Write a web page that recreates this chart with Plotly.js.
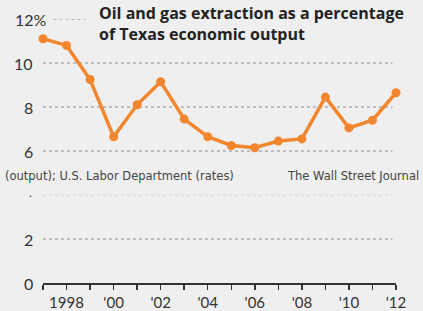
<!DOCTYPE html>
<html>
<head>
<meta charset="utf-8">
<script src="https://cdn.plot.ly/plotly-3.0.1.min.js"></script>
<style>
html,body{margin:0;padding:0;background:#efefef;}
#chart{width:423px;height:311px;}
</style>
</head>
<body>
<div id="chart"></div>
<script>
// Data
const years = [1997,1998,1999,2000,2001,2002,2003,2004,2005,2006,2007,2008,2009,2010,2011,2012];
const sharePct = [11.1,10.8,9.25,6.65,8.1,9.15,7.45,6.65,6.25,6.15,6.45,6.55,8.45,7.05,7.4,8.65];
const xTickVals = [1997,1998,1999,2000,2001,2002,2003,2004,2005,2006,2007,2008,2009,2010,2011,2012];
const xTickText = ['','1998','',"'00",'',"'02",'',"'04",'',"'06",'',"'08",'',"'10",'',"'12"];
const yTickVals = [0,2,6,8,10,12];
const yTickText = ['0','2','6','8','10','12%'];
const titleLines = ['Oil and gas extraction as a percentage','of Texas economic output'];
const sourceLeft = '(output); U.S. Labor Department (rates)';
const sourceRight = 'The Wall Street Journal';

const bg = '#efefef';
const orange = '#f2862e';
const gridColor = '#8a8a8a';
const font = 'Lato, "Open Sans", sans-serif';
const srcFont = '"DejaVu Sans", sans-serif';

const annotations = [];
yTickVals.forEach((v,i)=>{
  annotations.push({xref:'paper',yref:'y',x:-0.005,y:v,text:yTickText[i],showarrow:false,
    xanchor:i===yTickVals.length-1?'center':'right',xshift:i===yTickVals.length-1?-10:-6,yanchor:'middle',
    font:{family:font,size:16,color:'#333'}});
});
annotations.push({xref:'paper',yref:'y',x:-0.005,y:4,text:'.',showarrow:false,xanchor:'right',xshift:-7,yanchor:'middle',yshift:3,
  font:{family:font,size:12,color:'#333'}});
annotations.push({xref:'paper',yref:'paper',x:0.155,y:1.07,xanchor:'left',yanchor:'top',align:'left',showarrow:false,
  text:'<b>'+titleLines.join('<br>')+'</b>',bgcolor:bg,borderpad:0,
  font:{family:'"Open Sans", sans-serif',size:16,color:'#222'}});
annotations.push({xref:'paper',yref:'y',x:0.5,y:4.86,xanchor:'center',yanchor:'middle',showarrow:false,
  text:' ',bgcolor:bg,width:423,height:24,borderpad:0});
annotations.push({xref:'paper',yref:'y',x:-0.113,y:4.86,xanchor:'left',yanchor:'middle',showarrow:false,
  text:sourceLeft,font:{family:srcFont,size:11.5,color:'#444'}});
annotations.push({xref:'paper',yref:'y',x:1.071,y:4.86,xanchor:'right',yanchor:'middle',showarrow:false,
  text:sourceRight,font:{family:srcFont,size:11.5,color:'#444'}});

const shapes = [
  {type:'line',xref:'paper',yref:'y',x0:0,x1:0.99,y0:4,y1:4,layer:'below',line:{color:'#d8d8d8',width:1,dash:'dot'}},
  {type:'line',xref:'paper',yref:'y',x0:0.03,x1:0.12,y0:12,y1:12,layer:'below',line:{color:gridColor,width:1,dash:'dot'}}
];
[2,6,8,10].forEach(v=>shapes.push({type:'line',xref:'paper',yref:'y',x0:0,x1:0.99,y0:v,y1:v,layer:'below',line:{color:gridColor,width:1,dash:'dot'}}));

const trace = {x:years,y:sharePct,type:'scatter',mode:'lines+markers',cliponaxis:false,
  line:{color:orange,width:3.5},marker:{color:orange,size:9}};

const layout = {
  width:423,height:311,paper_bgcolor:bg,plot_bgcolor:bg,
  margin:{l:43,r:27,t:19,b:28},
  showlegend:false,
  xaxis:{range:[1997,2012],tickvals:xTickVals,ticktext:xTickText,ticks:'outside',ticklen:5,tickcolor:'#333',tickwidth:1.5,
    showline:true,linecolor:'#333',linewidth:1.5,showgrid:false,zeroline:false,
    tickfont:{family:font,size:15,color:'#333'},fixedrange:true},
  yaxis:{range:[0,12],showgrid:false,zeroline:false,showticklabels:false,ticks:'',fixedrange:true},
  shapes:shapes,annotations:annotations
};
Plotly.newPlot('chart',[trace],layout,{displayModeBar:false,staticPlot:true});
</script>
</body>
</html>
